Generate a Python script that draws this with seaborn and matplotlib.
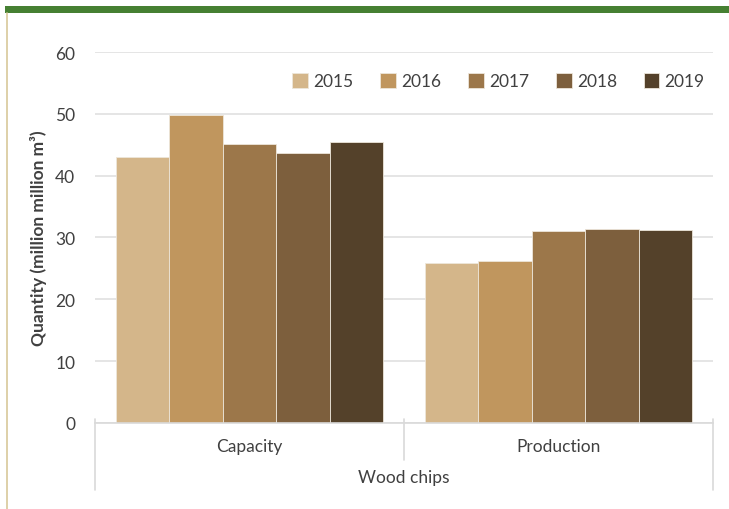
import matplotlib
matplotlib.use("Agg")
import matplotlib.pyplot as plt
import pandas as pd
import seaborn as sns
from matplotlib.lines import Line2D
from matplotlib.patches import Rectangle

categories = ["Capacity", "Production"]
years = ["2015", "2016", "2017", "2018", "2019"]
capacity = [43.0, 49.8, 45.1, 43.7, 45.4]
production = [25.9, 26.2, 31.0, 31.4, 31.2]
colors = ["#D4B68A", "#C0965E", "#9C774A", "#7D5F3D", "#54412A"]

df = pd.DataFrame({
    "Category": [c for c in categories for _ in years],
    "Year": years * 2,
    "Value": capacity + production,
})

sns.set_style("white")
plt.rcParams["font.family"] = ["Lato", "DejaVu Sans"]
text_col = "#404040"
fs = 12.5

fig = plt.figure(figsize=(7.29, 5.10), dpi=100)
ax = fig.add_axes([0.130, 0.169, 0.848, 0.727])

sns.barplot(data=df, x="Category", y="Value", hue="Year", palette=colors,
            width=0.865, edgecolor="#EDE6DA", linewidth=0.6, ax=ax,
            saturation=1)

ax.set_ylim(0, 60)
ax.set_yticks(range(0, 61, 10))
ax.set_xlim(-0.5, 1.5)
ax.grid(axis="y", color="#E0E0E0", linewidth=1.2)
ax.set_axisbelow(True)
for s in ["left", "right", "top"]:
    ax.spines[s].set_visible(False)
ax.spines["bottom"].set_color("#D9D9D9")
ax.spines["bottom"].set_linewidth(1.2)
ax.tick_params(axis="y", length=0, labelsize=fs, labelcolor=text_col, pad=14)
ax.tick_params(axis="x", length=0, labelsize=fs, labelcolor=text_col, pad=11)
ax.set_xlabel("")
ax.set_ylabel("Quantity (million million m³)", fontsize=fs, fontweight="bold",
              color=text_col, labelpad=6)

# category separators below axis
trans = ax.get_xaxis_transform()
for x, y0 in [(-0.5, -0.18), (0.5, -0.10), (1.5, -0.18)]:
    ax.add_line(Line2D([x, x], [0.01, y0], transform=trans, color="#D9D9D9",
                       linewidth=1.2, clip_on=False))
ax.text(0.5, -0.147, "Wood chips", transform=trans, ha="center", va="center",
        fontsize=fs, color=text_col)

leg = ax.legend(ncol=5, loc="upper right", bbox_to_anchor=(1.012, 0.985),
                frameon=False, fontsize=fs, handlelength=0.9, handleheight=0.9,
                handletextpad=0.3, columnspacing=1.55)
for t in leg.get_texts():
    t.set_color(text_col)

# decorative green top bar and left rule
fig.add_artist(Rectangle((0.007, 0.972), 0.993, 0.015, transform=fig.transFigure,
                         color="#468032", linewidth=0))
fig.add_artist(Line2D([0.009, 0.009], [0.0, 0.972], transform=fig.transFigure,
                      color="#D8C89A", linewidth=1.2))

fig.savefig("out.png", dpi=100)
